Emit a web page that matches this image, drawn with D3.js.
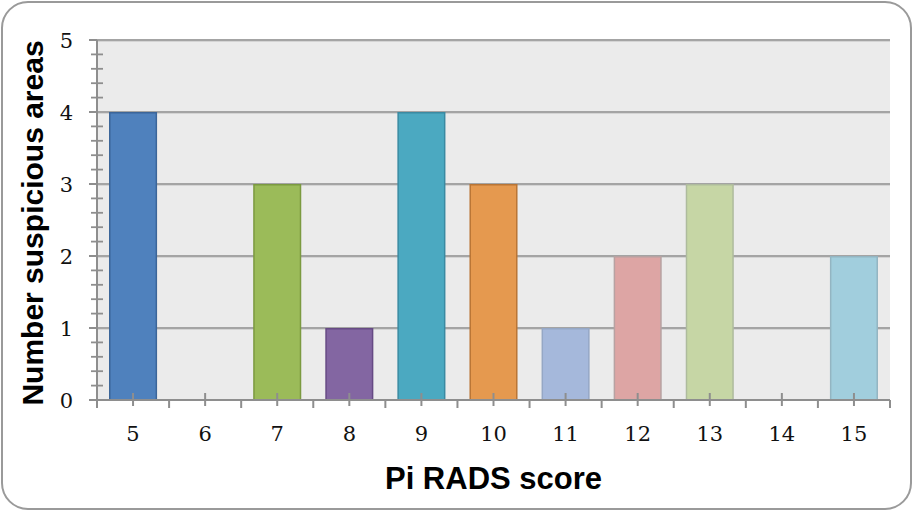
<!DOCTYPE html>
<html>
<head>
<meta charset="utf-8">
<script src="https://cdn.jsdelivr.net/npm/d3@7"></script>
<style>
html,body{margin:0;padding:0;background:#fff;}
svg{display:block;}
</style>
</head>
<body>
<svg id="chart" width="913" height="511"></svg>
<script>
const categories = ["5","6","7","8","9","10","11","12","13","14","15"];
const values = [4,0,3,1,4,3,1,2,3,0,2];
const fills = ["#4f81bd","#4f81bd","#9bbb59","#8366a2","#4ba9c1","#e5994f","#a5b8db","#dda5a4","#c6d6a5","#c6d6a5","#a1cedd"];
const strokes = ["#3b6599","#3b6599","#7b9a40","#664a84","#3a8aa2","#b97535","#95a7c5","#b7a2a2","#aebb9d","#aebb9d","#93b5c2"];
const yTicks = [0,1,2,3,4,5];
const xTitle = "Pi RADS score";
const yTitle = "Number suspicious areas";

const svg = d3.select("#chart");
const W = 913, H = 511;
const L = 97, R = 890, T = 40, B = 400;

// outer rounded border
svg.append("rect")
  .attr("x", 2).attr("y", 2).attr("width", W - 4).attr("height", H - 4)
  .attr("rx", 26).attr("ry", 26)
  .attr("fill", "#fff").attr("stroke", "#9a9a9a").attr("stroke-width", 2);

const x = d3.scaleBand().domain(categories).range([L, R]).paddingInner(1/3).paddingOuter(1/6);
const y = d3.scaleLinear().domain([0, 5]).range([B, T]);

// plot background
svg.append("rect").attr("x", L).attr("y", y(5)).attr("width", R - L).attr("height", y(0) - y(5))
  .attr("fill", "#ebebeb");

// gridlines
const grid = svg.append("g");
grid.selectAll("line.sh").data(yTicks.filter(d => d > 0)).join("line")
  .attr("x1", L).attr("x2", R).attr("y1", d => y(d) + 1.5).attr("y2", d => y(d) + 1.5)
  .attr("stroke", "#d4d4d4").attr("stroke-width", 1);
grid.selectAll("line.g").data(yTicks.filter(d => d > 0)).join("line")
  .attr("x1", L).attr("x2", R).attr("y1", d => y(d)).attr("y2", d => y(d))
  .attr("stroke", "#a4a4a4").attr("stroke-width", 1.8);

// bars
const data = categories.map((c, i) => ({c, v: values[i], fill: fills[i], stroke: strokes[i]})).filter(d => d.v > 0);
svg.append("g").selectAll("rect").data(data).join("rect")
  .attr("x", d => x(d.c) + 0.75)
  .attr("y", d => y(d.v) + 0.75)
  .attr("width", x.bandwidth() - 1.5)
  .attr("height", d => y(0) - y(d.v) - 0.75)
  .attr("fill", d => d.fill)
  .attr("stroke", d => d.stroke)
  .attr("stroke-width", 1.5);

// y axis
const axisColor = "#8e8e8e";
const yAx = svg.append("g");
yAx.append("line").attr("x1", L).attr("x2", L).attr("y1", y(5)).attr("y2", y(0))
  .attr("stroke", axisColor).attr("stroke-width", 2);
yAx.selectAll("line.maj").data(yTicks).join("line")
  .attr("x1", L - 8).attr("x2", L).attr("y1", d => y(d)).attr("y2", d => y(d))
  .attr("stroke", axisColor).attr("stroke-width", 2);
const minor = d3.range(0, 5, 0.2).filter(v => Math.abs(v - Math.round(v)) > 0.01);
yAx.selectAll("line.min").data(minor).join("line")
  .attr("x1", L - 6).attr("x2", L + 6).attr("y1", d => y(d)).attr("y2", d => y(d))
  .attr("stroke", axisColor).attr("stroke-width", 1.8);
yAx.selectAll("text").data(yTicks).join("text")
  .attr("x", L - 24).attr("y", d => y(d) + 2)
  .attr("text-anchor", "end").attr("dominant-baseline", "middle")
  .attr("font-family", "DejaVu Serif, serif").attr("font-size", 21)
  .attr("fill", "#111").text(d => d);

// x axis
const xAx = svg.append("g");
xAx.append("line").attr("x1", L - 8).attr("x2", R).attr("y1", B).attr("y2", B)
  .attr("stroke", axisColor).attr("stroke-width", 2);
// boundary ticks
const bounds = categories.map(c => x(c) - x.step() * x.paddingInner() / 2).concat([R]);
xAx.selectAll("line.b").data(bounds).join("line")
  .attr("x1", d => d).attr("x2", d => d).attr("y1", B).attr("y2", B + 8)
  .attr("stroke", axisColor).attr("stroke-width", 2);
// center ticks
xAx.selectAll("line.c").data(categories).join("line")
  .attr("x1", d => x(d) + x.bandwidth() / 2).attr("x2", d => x(d) + x.bandwidth() / 2)
  .attr("y1", B - 7).attr("y2", B + 6)
  .attr("stroke", axisColor).attr("stroke-width", 2);
xAx.selectAll("text").data(categories).join("text")
  .attr("x", d => x(d) + x.bandwidth() / 2).attr("y", 435)
  .attr("text-anchor", "middle").attr("dominant-baseline", "middle")
  .attr("font-family", "DejaVu Serif, serif").attr("font-size", 21)
  .attr("fill", "#111").text(d => d);

// titles
svg.append("text").attr("x", (L + R) / 2).attr("y", 489)
  .attr("text-anchor", "middle")
  .attr("font-family", "Liberation Sans, Arial, sans-serif").attr("font-weight", "bold")
  .attr("font-size", 31).attr("fill", "#000").text(xTitle);
svg.append("text").attr("transform", `translate(43,${(T + B) / 2 + 3}) rotate(-90)`)
  .attr("text-anchor", "middle")
  .attr("font-family", "Liberation Sans, Arial, sans-serif").attr("font-weight", "bold")
  .attr("font-size", 30).attr("fill", "#000").text(yTitle);
</script>
</body>
</html>
